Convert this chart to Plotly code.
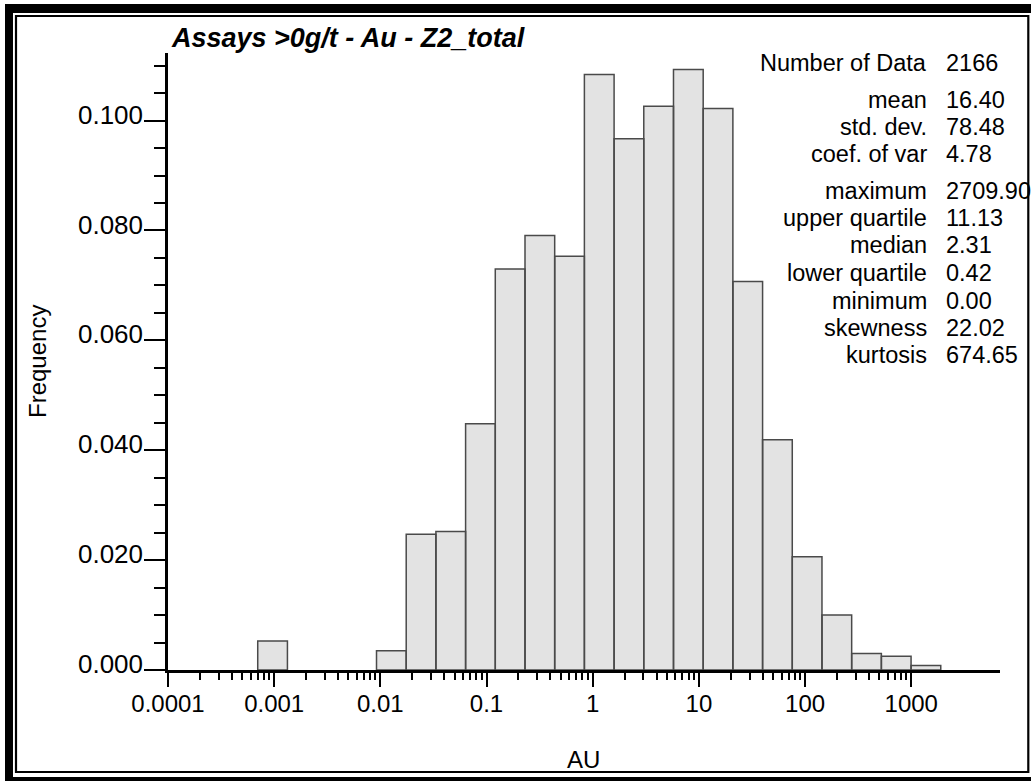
import plotly.graph_objects as go

# ---------------- data ----------------
bin_edges = [0.00070, 0.001333, 0.002537, 0.004831, 0.009200, 0.01752, 0.03336,
             0.06352, 0.1209, 0.2303, 0.4385, 0.8350, 1.590, 3.027, 5.765, 10.98,
             20.90, 39.80, 75.78, 144.3, 274.8, 523.2, 996.3, 1897.0]
frequencies = [0.0053, 0.0, 0.0, 0.0, 0.0035, 0.0247, 0.0252, 0.0448, 0.0730,
               0.0791, 0.0753, 0.1084, 0.0967, 0.1026, 0.1093, 0.1022, 0.0707,
               0.0419, 0.0206, 0.0100, 0.0030, 0.0025, 0.0008]

stat_labels = ["Number of Data", "mean", "std. dev.", "coef. of var", "maximum",
               "upper quartile", "median", "lower quartile", "minimum",
               "skewness", "kurtosis"]
stat_values = ["2166", "16.40", "78.48", "4.78", "2709.90", "11.13", "2.31",
               "0.42", "0.00", "22.02", "674.65"]

y_tickvals = [0.0, 0.02, 0.04, 0.06, 0.08, 0.10]
y_ticktext = ["0.000", "0.020", "0.040", "0.060", "0.080", "0.100"]
x_tickvals = [0.0001, 0.001, 0.01, 0.1, 1, 10, 100, 1000]
x_ticktext = ["0.0001", "0.001", "0.01", "0.1", "1", "10", "100", "1000"]

title_text = "Assays >0g/t - Au - Z2_total"
x_title = "AU"
y_title = "Frequency"

# ---------------- layout geometry ----------------
W, H = 1031, 781
ML, MR, MT, MB = 168, 31, 53, 111
PW, PH = W - ML - MR, H - MT - MB
FONT = "Liberation Sans, Arial, Helvetica, sans-serif"


def px_x(px):
    return (px - ML) / PW


def px_y(py):
    return (H - MB - py) / PH


# minor tick positions: 2..9 within each labelled decade (none past 1000)
minor_x = [m * d for d in x_tickvals[:-1] for m in range(2, 10)]

# ---------------- bars as closed polygons ----------------
bx, by = [], []
for i, f in enumerate(frequencies):
    if f <= 0:
        continue
    l, r = bin_edges[i], bin_edges[i + 1]
    bx += [l, l, r, r, l, None]
    by += [0, f, f, 0, 0, None]

fig = go.Figure()
fig.add_trace(go.Scatter(
    x=bx, y=by, mode="lines", fill="toself",
    fillcolor="#e3e3e3", line=dict(color="#4a4a4a", width=1.5),
    hoverinfo="skip", showlegend=False,
))

fig.update_layout(
    width=W, height=H, autosize=False,
    margin=dict(l=ML, r=MR, t=MT, b=MB, pad=0),
    paper_bgcolor="white", plot_bgcolor="white",
    font=dict(family=FONT, color="black", size=23),
    showlegend=False,
)

fig.update_xaxes(
    type="log", range=[-4, 3.836],
    showgrid=False, zeroline=False,
    showline=True, linecolor="black", linewidth=2.5,
    ticks="outside", ticklen=14, tickwidth=1.5, tickcolor="black",
    tickvals=x_tickvals, ticktext=x_ticktext,
    tickfont=dict(family=FONT, size=24, color="black"),
    ticklabelstandoff=-4,
    minor=dict(ticks="outside", ticklen=7, tickwidth=1.5, tickcolor="black",
               tickvals=minor_x, showgrid=False),
)
fig.update_yaxes(
    range=[0, 0.1123],
    showgrid=False, zeroline=False,
    showline=True, linecolor="black", linewidth=2.5,
    ticks="outside", ticklen=21, tickwidth=1.5, tickcolor="black",
    tickvals=y_tickvals, ticktext=y_ticktext,
    tickfont=dict(family=FONT, size=26, color="black"),
    ticklabelshift=-6, ticklabelstandoff=-4,
    minor=dict(ticks="outside", ticklen=11, tickwidth=1.5, tickcolor="black",
               dtick=0.005, showgrid=False),
)

annotations = []
# title
annotations.append(dict(
    text="<b><i>" + title_text + "</i></b>", xref="paper", yref="paper",
    x=px_x(169), y=px_y(38), xanchor="left", yanchor="middle",
    showarrow=False, font=dict(family=FONT, size=27, color="black"),
))
# axis titles
annotations.append(dict(
    text=x_title, xref="paper", yref="paper", x=px_x(583), y=px_y(760),
    xanchor="center", yanchor="middle", showarrow=False,
    font=dict(family=FONT, size=24, color="black"),
))
annotations.append(dict(
    text=y_title, xref="paper", yref="paper", x=px_x(37), y=px_y(362),
    xanchor="center", yanchor="middle", textangle=-90, showarrow=False,
    font=dict(family=FONT, size=24, color="black"),
))
# statistics block
row_y = [62.7, 100, 127.3, 154, 191, 218, 245, 272.5, 300.5, 327.5, 354.5]
for lab, val, ry in zip(stat_labels, stat_values, row_y):
    annotations.append(dict(
        text=lab, xref="paper", yref="paper", x=px_x(929), y=px_y(ry),
        xanchor="right", yanchor="middle", showarrow=False,
        font=dict(family=FONT, size=23.5, color="black"),
    ))
    annotations.append(dict(
        text=val, xref="paper", yref="paper", x=px_x(944), y=px_y(ry),
        xanchor="left", yanchor="middle", showarrow=False,
        font=dict(family=FONT, size=23.5, color="black"),
    ))
fig.update_layout(annotations=annotations)

# ---------------- picture frame ----------------
def rect(x0, y0, x1, y1, fill=None, lw=0):
    d = dict(type="rect", xref="paper", yref="paper",
             x0=px_x(x0), x1=px_x(x1), y0=px_y(y1), y1=px_y(y0),
             layer="above")
    if fill:
        d.update(fillcolor=fill, line=dict(width=0))
    else:
        d.update(line=dict(color="black", width=lw))
    return d

shapes = [
    rect(5, 4, 1031, 13, fill="black"),      # outer top band
    rect(5, 4, 13, 781, fill="black"),       # outer left band
    rect(5, 777, 1031, 781, fill="black"),   # outer bottom band
    rect(16, 16, 1028.3, 772, lw=2.2),       # inner thin frame
]
fig.update_layout(shapes=shapes)

fig.write_html(
    "out.html",
    config={"displayModeBar": False},
    post_script="document.body.style.margin='0px';document.body.style.overflow='hidden';",
)
